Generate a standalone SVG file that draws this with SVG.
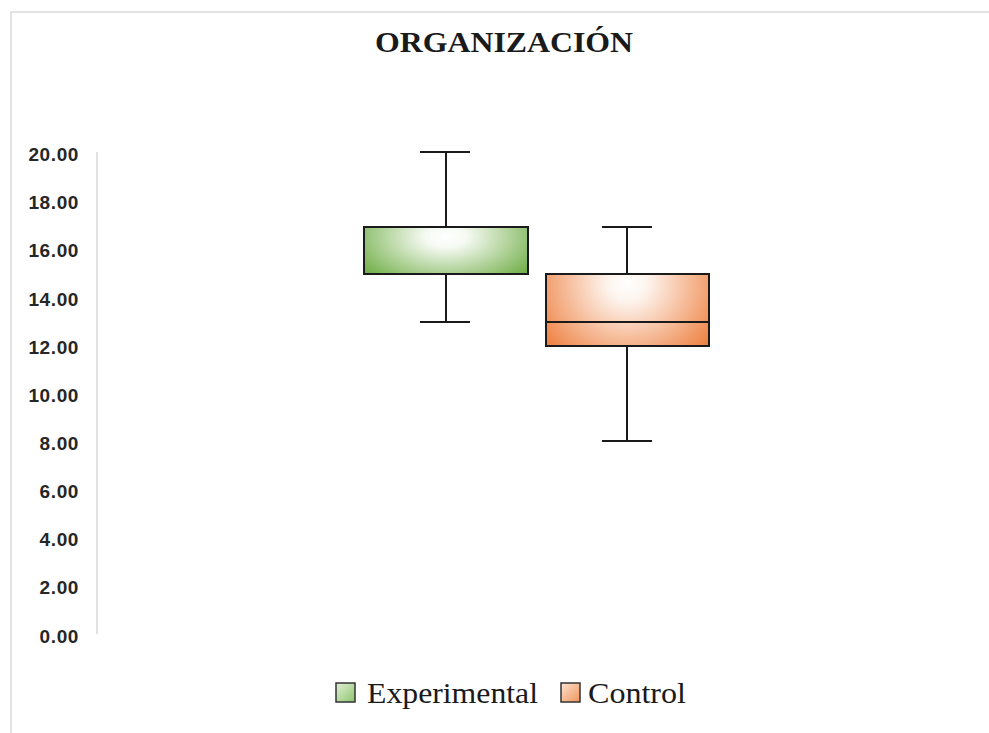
<svg xmlns="http://www.w3.org/2000/svg" width="989" height="733" viewBox="0 0 989 733">
<defs>
<radialGradient id="gG" cx="0.5" cy="0.2" r="0.62" gradientTransform="translate(0.5 0.2) scale(1 1.9) translate(-0.5 -0.2)">
<stop offset="0" stop-color="#ffffff"/><stop offset="0.2" stop-color="#f6faf3"/><stop offset="1" stop-color="#74b04c"/>
</radialGradient>
<radialGradient id="gO" cx="0.5" cy="0.12" r="0.64" gradientTransform="translate(0.5 0.12) scale(1 2.1) translate(-0.5 -0.12)">
<stop offset="0" stop-color="#ffffff"/><stop offset="0.2" stop-color="#fdf3ec"/><stop offset="1" stop-color="#ee8040"/>
</radialGradient>
<linearGradient id="lG" x1="0" y1="0" x2="1" y2="1"><stop offset="0" stop-color="#e2f0d9"/><stop offset="1" stop-color="#8cc46a"/></linearGradient>
<linearGradient id="lO" x1="0" y1="0" x2="1" y2="1"><stop offset="0" stop-color="#fde3d2"/><stop offset="1" stop-color="#f0955a"/></linearGradient>
</defs>
<style>
.ax{font-family:"Liberation Sans",Arial,sans-serif;font-weight:bold;font-size:19px;letter-spacing:0.6px;fill:#262626;text-anchor:end}
.ln{stroke:#1a1a1a;stroke-width:2;fill:none}
.bx{stroke:#1a1a1a;stroke-width:2}
.lg{font-family:"Liberation Serif","Times New Roman",serif;font-size:30px;fill:#1a1a1a}
</style>
<rect x="0" y="0" width="989" height="733" fill="#ffffff"/>
<rect x="11" y="12" width="990" height="740" fill="#ffffff" stroke="#d9d9d9" stroke-width="1.5"/>
<text x="375" y="52" textLength="258" lengthAdjust="spacingAndGlyphs" font-family="Liberation Serif,'Times New Roman',serif" font-weight="bold" font-size="30" fill="#1a1a1a">ORGANIZACIÓN</text>
<g id="axis">
<line x1="97" y1="152" x2="97" y2="634" stroke="#d9d9d9" stroke-width="1.5"/>
<text class="ax" x="79" y="161">20.00</text>
<text class="ax" x="79" y="209">18.00</text>
<text class="ax" x="79" y="257">16.00</text>
<text class="ax" x="79" y="306">14.00</text>
<text class="ax" x="79" y="354">12.00</text>
<text class="ax" x="79" y="402">10.00</text>
<text class="ax" x="79" y="450">8.00</text>
<text class="ax" x="79" y="498">6.00</text>
<text class="ax" x="79" y="546">4.00</text>
<text class="ax" x="79" y="594">2.00</text>
<text class="ax" x="79" y="643">0.00</text>
</g>
<g id="connectors">
<line class="ln" x1="446" y1="152" x2="446" y2="227"/>
<line class="ln" x1="420" y1="152" x2="470" y2="152"/>
<line class="ln" x1="446" y1="274" x2="446" y2="322"/>
<line class="ln" x1="420" y1="322" x2="470" y2="322"/>
<line class="ln" x1="627" y1="227" x2="627" y2="274"/>
<line class="ln" x1="602" y1="227" x2="652" y2="227"/>
<line class="ln" x1="627" y1="346" x2="627" y2="441"/>
<line class="ln" x1="602" y1="441" x2="652" y2="441"/>
</g>
<g id="experimental">
<rect class="bx" x="364" y="227" width="164" height="47" fill="url(#gG)"/>
</g>
<g id="control">
<rect class="bx" x="546" y="274" width="163" height="72" fill="url(#gO)"/>
<line class="ln" x1="546" y1="322" x2="709" y2="322"/>
</g>
<g id="legend">
<rect x="336" y="683" width="19" height="19" fill="url(#lG)" stroke="#333" stroke-width="1.5"/>
<text class="lg" x="367" y="703" textLength="171" lengthAdjust="spacingAndGlyphs">Experimental</text>
<rect x="561" y="683" width="19" height="19" fill="url(#lO)" stroke="#333" stroke-width="1.5"/>
<text class="lg" x="588" y="703" textLength="98" lengthAdjust="spacingAndGlyphs">Control</text>
</g>
</svg>
